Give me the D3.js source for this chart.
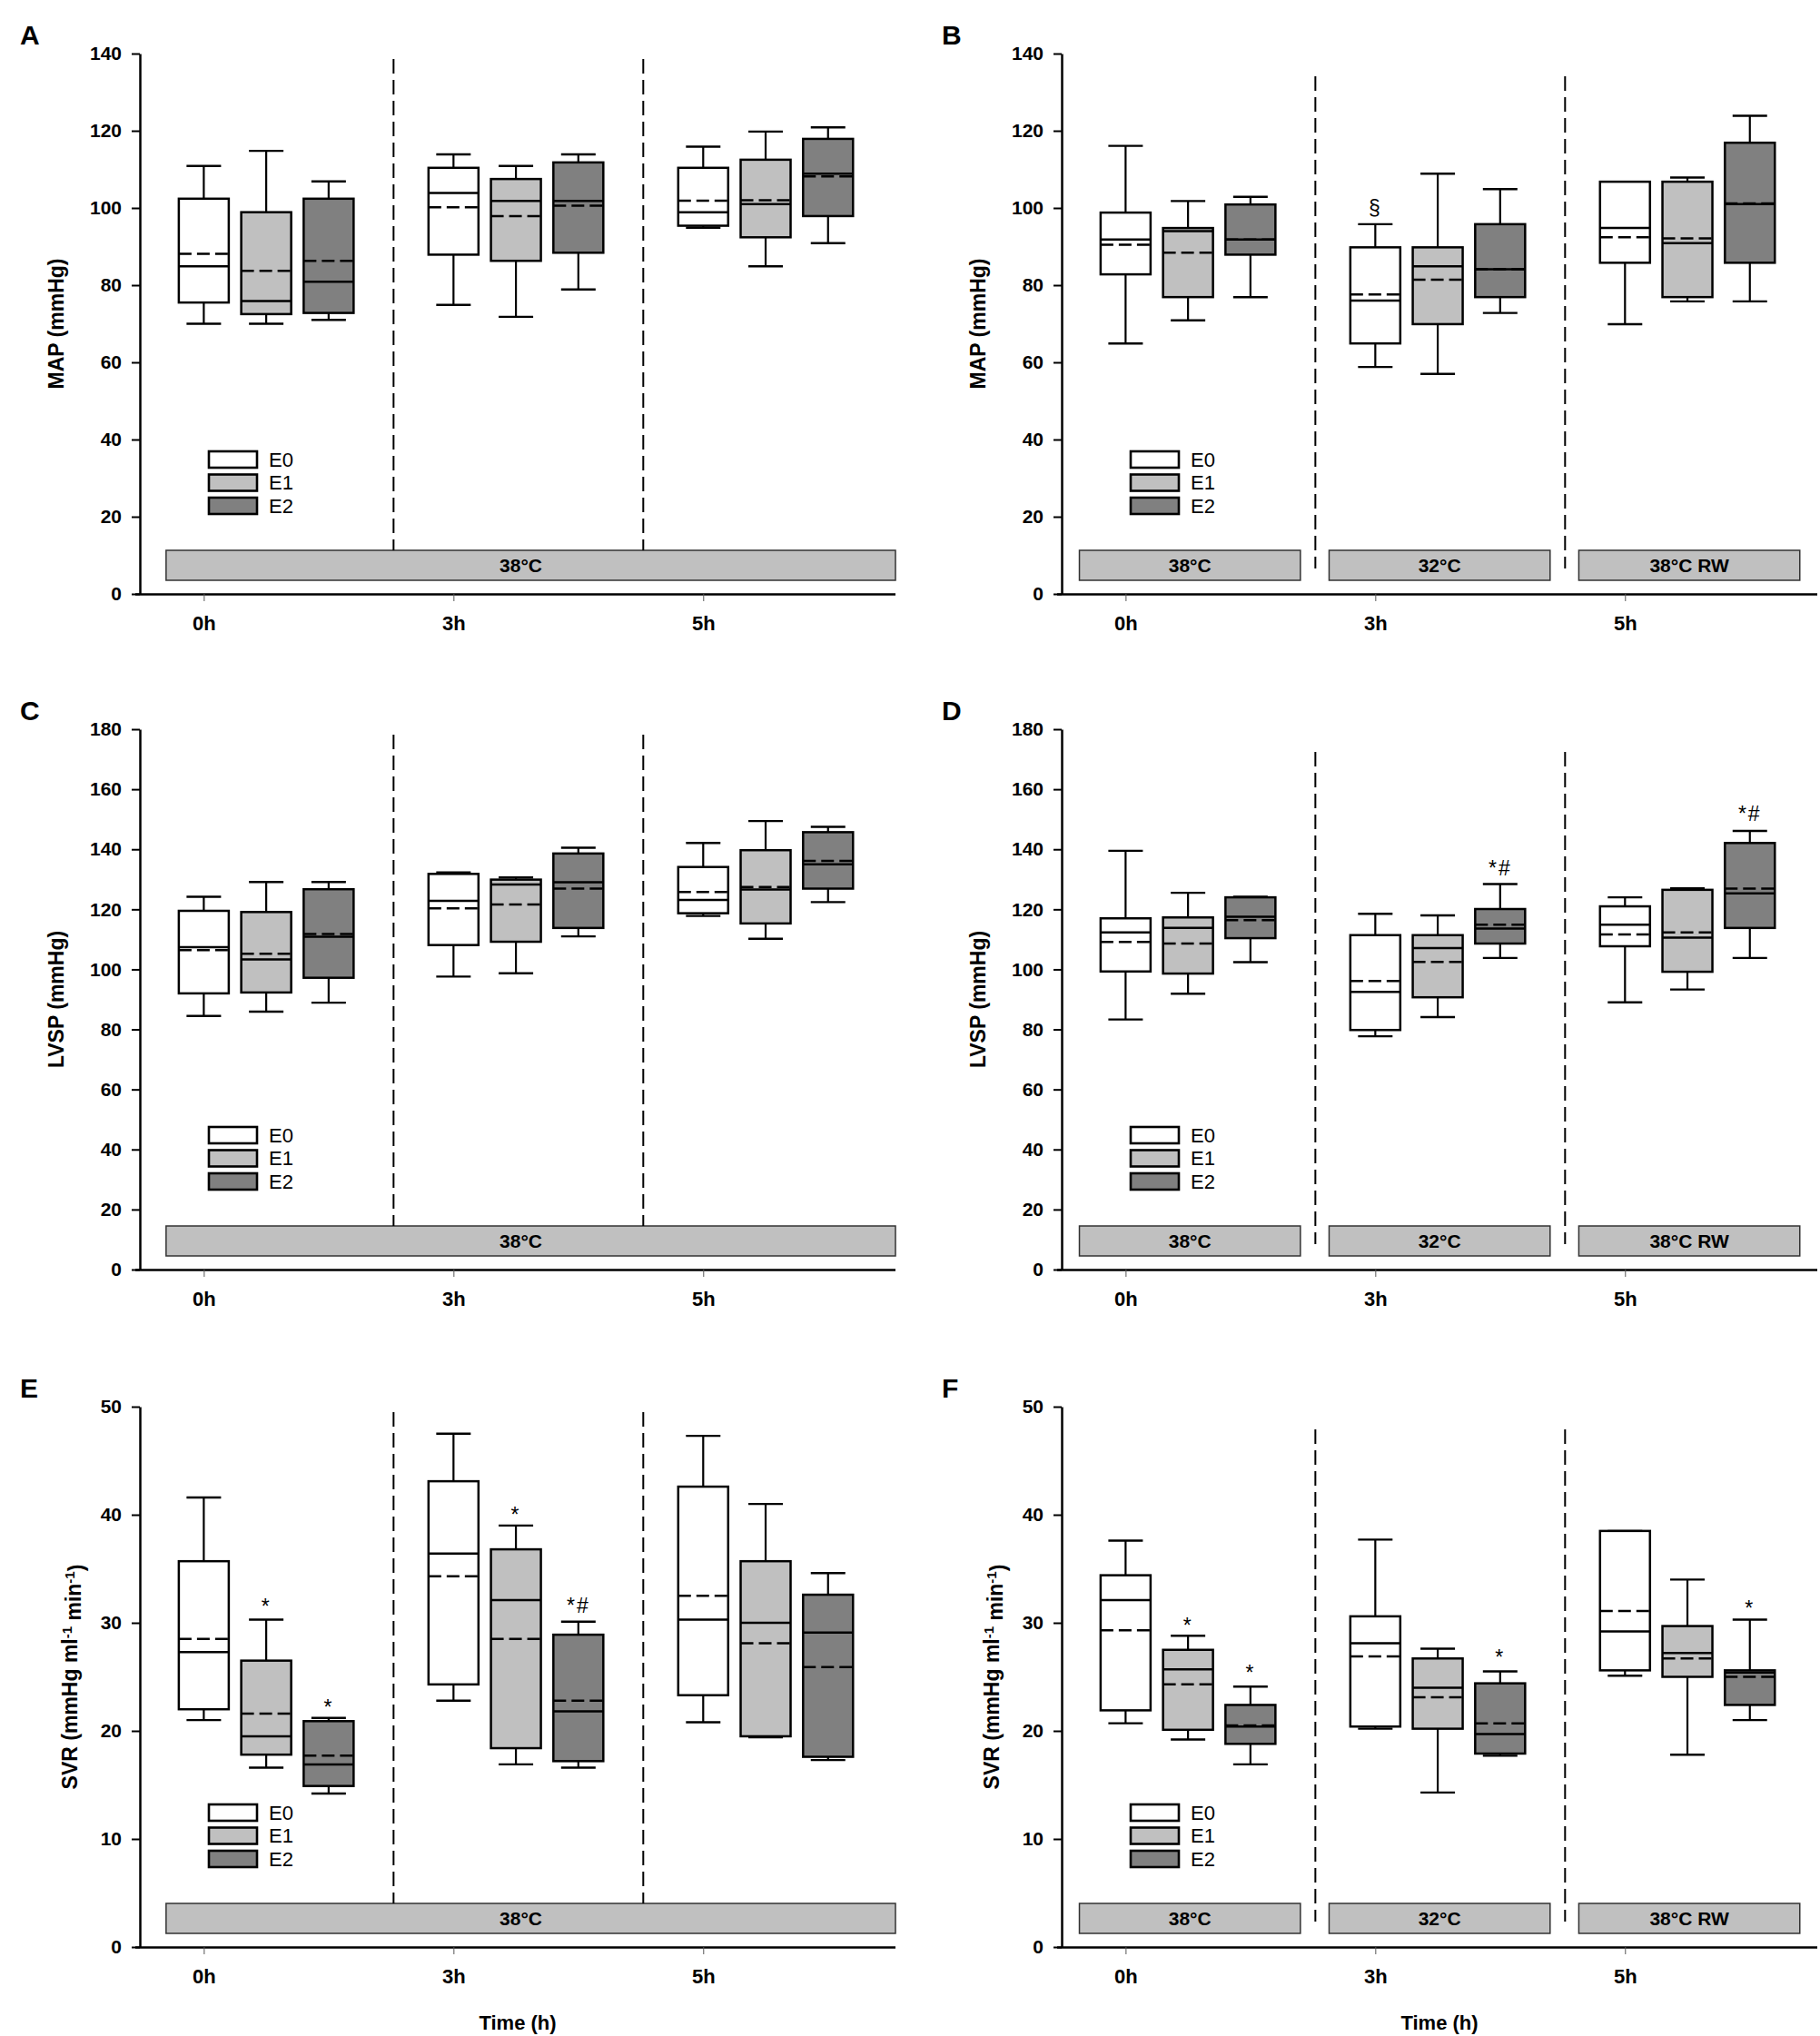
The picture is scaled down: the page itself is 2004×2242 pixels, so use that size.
<!DOCTYPE html>
<html>
<head>
<meta charset="utf-8">
<script src="https://cdn.jsdelivr.net/npm/d3@7"></script>
<style>
body { margin: 0; background: #fff; }
text { font-family: "Liberation Sans", Arial, sans-serif; }
</style>
</head>
<body>
<svg id="chart" width="2004" height="2242"></svg>
<script>
// Categories
const times = ["0h", "3h", "5h"];
const groups = ["E0", "E1", "E2"];
const groupFill = ["#ffffff", "#c0c0c0", "#808080"];

// Box rows: [time, group, whisker low, Q1, median, mean, Q3, whisker high]
const mapA = [
    ["0h", "E0", 70, 75.5, 84.9, 88.1, 102.4, 110.9],
    ["0h", "E1", 70, 72.5, 75.9, 83.7, 98.9, 114.8],
    ["0h", "E2", 71, 72.8, 80.9, 86.3, 102.4, 106.9],
    ["3h", "E0", 74.9, 87.9, 103.9, 100.2, 110.4, 113.9],
    ["3h", "E1", 71.8, 86.3, 101.8, 97.9, 107.5, 110.9],
    ["3h", "E2", 78.9, 88.4, 101.8, 100.6, 111.8, 113.9],
    ["5h", "E0", 94.9, 95.4, 98.9, 101.9, 110.4, 115.9],
    ["5h", "E1", 84.9, 92.4, 101, 102, 112.5, 119.8],
    ["5h", "E2", 90.9, 97.9, 108.9, 108.2, 117.9, 120.9]
];
const mapB = [
    ["0h", "E0", 64.9, 82.8, 91.8, 90.5, 98.8, 116.1],
    ["0h", "E1", 70.9, 76.9, 94, 88.4, 94.8, 101.8],
    ["0h", "E2", 76.9, 87.9, 91.8, 91.8, 100.9, 102.9],
    ["3h", "E0", 58.8, 64.9, 76, 77.6, 89.8, 95.8],
    ["3h", "E1", 57, 69.9, 84.9, 81.4, 89.8, 108.9],
    ["3h", "E2", 72.8, 76.9, 84.1, 84.1, 95.8, 104.9],
    ["5h", "E0", 69.9, 85.8, 94.8, 92.4, 106.8, 106.8],
    ["5h", "E1", 75.8, 76.9, 90.9, 92.1, 106.8, 107.9],
    ["5h", "E2", 75.8, 85.8, 101, 101.2, 116.9, 123.9]
];
const lvspC = [
    ["0h", "E0", 84.5, 92, 107.4, 106.4, 119.5, 124.2],
    ["0h", "E1", 85.9, 92.3, 103.3, 105.2, 119.1, 129.1],
    ["0h", "E2", 88.9, 97.2, 110.9, 111.8, 126.7, 129.1],
    ["3h", "E0", 97.6, 108.1, 122.8, 120.3, 131.8, 132.3],
    ["3h", "E1", 98.7, 109.2, 128.3, 121.6, 129.9, 130.6],
    ["3h", "E2", 111, 113.8, 129, 126.9, 138.6, 140.5],
    ["5h", "E0", 117.8, 118.7, 123.1, 125.8, 134.1, 142.1],
    ["5h", "E1", 110.2, 115.3, 126.6, 127.4, 139.7, 149.4],
    ["5h", "E2", 122.4, 126.9, 135, 136.1, 145.7, 147.5]
];
const lvspD = [
    ["0h", "E0", 83.3, 99.3, 112.3, 109.1, 117, 139.5],
    ["0h", "E1", 91.9, 98.6, 113.8, 108.6, 117.3, 125.5],
    ["0h", "E2", 102.4, 110.4, 117.5, 116.4, 124, 124.2],
    ["3h", "E0", 77.7, 79.8, 92.5, 96.1, 111.4, 118.5],
    ["3h", "E1", 84.1, 90.7, 107.1, 102.5, 111.4, 118],
    ["3h", "E2", 103.8, 108.6, 113.6, 114.9, 120.1, 128.4],
    ["5h", "E0", 89, 107.7, 114.9, 111.6, 121, 124],
    ["5h", "E1", 93.3, 99.2, 110.6, 112.3, 126.5, 127],
    ["5h", "E2", 103.8, 113.8, 125.3, 126.9, 142.1, 146.1]
];
const svrE = [
    ["0h", "E0", 21.0, 22.0, 27.3, 28.5, 35.7, 41.6],
    ["0h", "E1", 16.6, 17.8, 19.5, 21.6, 26.5, 30.3],
    ["0h", "E2", 14.2, 14.9, 16.9, 17.7, 20.9, 21.2],
    ["3h", "E0", 22.8, 24.3, 36.4, 34.3, 43.1, 47.5],
    ["3h", "E1", 16.9, 18.4, 32.1, 28.5, 36.8, 39],
    ["3h", "E2", 16.6, 17.2, 21.8, 22.8, 28.9, 30.1],
    ["5h", "E0", 20.8, 23.3, 30.3, 32.5, 42.6, 47.3],
    ["5h", "E1", 19.4, 19.5, 30.0, 28.1, 35.7, 41],
    ["5h", "E2", 17.3, 17.6, 29.1, 25.9, 32.6, 34.6]
];
const svrF = [
    ["0h", "E0", 20.7, 21.9, 32.1, 29.3, 34.4, 37.6],
    ["0h", "E1", 19.2, 20.1, 25.7, 24.3, 27.5, 28.8],
    ["0h", "E2", 16.9, 18.8, 20.4, 20.5, 22.4, 24.1],
    ["3h", "E0", 20.2, 20.4, 28.1, 26.9, 30.6, 37.7],
    ["3h", "E1", 14.3, 20.2, 24.0, 23.1, 26.7, 27.6],
    ["3h", "E2", 17.7, 17.9, 19.7, 20.7, 24.4, 25.5],
    ["5h", "E0", 25.1, 25.6, 29.2, 31.1, 38.5, 38.5],
    ["5h", "E1", 17.8, 25.0, 27.2, 26.7, 29.7, 34.0],
    ["5h", "E2", 21.0, 22.4, 25.4, 25.0, 25.6, 30.3]
];

// Significance marks: [time, group, value at mark, symbol]
const notesB = [["3h", "E0", 100, "§"]];
const notesD = [["3h", "E2", 133.7, "*#"], ["5h", "E2", 151.8, "*#"]];
const notesE = [["0h", "E1", 31.9, "*"], ["0h", "E2", 22.6, "*"], ["3h", "E1", 40.4, "*"], ["3h", "E2", 31.6, "*#"]];
const notesF = [["0h", "E1", 30.1, "*"], ["0h", "E2", 25.8, "*"], ["3h", "E2", 27.2, "*"], ["5h", "E2", 31.7, "*"]];

// Temperature band labels
const bandLabelsSingle = ["38°C"];
const bandLabelsSplit = ["38°C", "32°C", "38°C RW"];

// Y ticks
const ticksMAP = d3.range(0, 141, 20);
const ticksLVSP = d3.range(0, 181, 20);
const ticksSVR = d3.range(0, 51, 10);

// Layout
const colX = [154, 1169];
const rowY = [59, 803, 1549];
const W = 832, H = 595;
const boxW = 55, capW = 38;

const panels = [
    {letter: "A", col: 0, row: 0, data: mapA, ticks: ticksMAP, label: ["MAP (mmHg)"], bands: bandLabelsSingle, notes: []},
    {letter: "B", col: 1, row: 0, data: mapB, ticks: ticksMAP, label: ["MAP (mmHg)"], bands: bandLabelsSplit, notes: notesB},
    {letter: "C", col: 0, row: 1, data: lvspC, ticks: ticksLVSP, label: ["LVSP (mmHg)"], bands: bandLabelsSingle, notes: []},
    {letter: "D", col: 1, row: 1, data: lvspD, ticks: ticksLVSP, label: ["LVSP (mmHg)"], bands: bandLabelsSplit, notes: notesD},
    {letter: "E", col: 0, row: 2, data: svrE, ticks: ticksSVR, label: "svr", bands: bandLabelsSingle, notes: notesE},
    {letter: "F", col: 1, row: 2, data: svrF, ticks: ticksSVR, label: "svr", bands: bandLabelsSplit, notes: notesF}
];

const svg = d3.select("#chart");

panels.forEach(p => {
    const g = svg.append("g")
        .attr("transform", "translate(" + colX[p.col] + "," + rowY[p.row] + ")");

    const x = d3.scaleLinear().domain([-0.256, 2.77]).range([0, W]);
    const y = d3.scaleLinear().domain([0, d3.max(p.ticks)]).range([H, 0]);
    const pos = (t, grp) => x(times.indexOf(t) + groups.indexOf(grp) * 0.25);

    // Temperature bands
    const bandG = g.append("g");
    if (p.bands.length === 1) {
        bandG.append("rect")
            .attr("x", x(-0.151)).attr("y", H - 48)
            .attr("width", x(2.77) - x(-0.151)).attr("height", 33)
            .attr("fill", "#c0c0c0").attr("stroke", "#333").attr("stroke-width", 1.5);
        bandG.append("text")
            .attr("x", x(1.27)).attr("y", H - 31.5).attr("dy", "0.36em")
            .attr("text-anchor", "middle")
            .style("font-size", "21px").style("font-weight", "bold")
            .text(p.bands[0]);
    } else {
        p.bands.forEach((b, i) => {
            bandG.append("rect")
                .attr("x", x(i - 0.185)).attr("y", H - 48)
                .attr("width", x(i + 0.70) - x(i - 0.185)).attr("height", 33)
                .attr("fill", "#c0c0c0").attr("stroke", "#333").attr("stroke-width", 1.5);
            bandG.append("text")
                .attr("x", x(i + 0.2575)).attr("y", H - 31.5).attr("dy", "0.36em")
                .attr("text-anchor", "middle")
                .style("font-size", "21px").style("font-weight", "bold")
                .text(b);
        });
    }

    // Dashed time dividers
    [0.76, 1.76].forEach(d => {
        const y1 = p.bands.length === 1 ? 6 : 25;
        const y2 = p.bands.length === 1 ? H - 48 : H - 28;
        g.append("line")
            .attr("x1", x(d)).attr("x2", x(d))
            .attr("y1", y1).attr("y2", y2)
            .attr("stroke", "#000").attr("stroke-width", 2)
            .attr("stroke-dasharray", "16,7");
    });

    // Boxes
    const box = g.selectAll(".box")
        .data(p.data)
        .enter().append("g")
        .attr("class", "box");

    // whiskers
    box.append("line")
        .attr("x1", d => pos(d[0], d[1])).attr("x2", d => pos(d[0], d[1]))
        .attr("y1", d => y(d[7])).attr("y2", d => y(d[2]))
        .attr("stroke", "#000").attr("stroke-width", 2.2);
    box.append("line")
        .attr("x1", d => pos(d[0], d[1]) - capW / 2).attr("x2", d => pos(d[0], d[1]) + capW / 2)
        .attr("y1", d => y(d[7])).attr("y2", d => y(d[7]))
        .attr("stroke", "#000").attr("stroke-width", 2.4);
    box.append("line")
        .attr("x1", d => pos(d[0], d[1]) - capW / 2).attr("x2", d => pos(d[0], d[1]) + capW / 2)
        .attr("y1", d => y(d[2])).attr("y2", d => y(d[2]))
        .attr("stroke", "#000").attr("stroke-width", 2.4);

    box.append("rect")
        .attr("x", d => pos(d[0], d[1]) - boxW / 2)
        .attr("y", d => y(d[6]))
        .attr("width", boxW)
        .attr("height", d => y(d[3]) - y(d[6]))
        .attr("fill", d => groupFill[groups.indexOf(d[1])])
        .attr("stroke", "#000").attr("stroke-width", 2.5);

    // median
    box.append("line")
        .attr("x1", d => pos(d[0], d[1]) - boxW / 2).attr("x2", d => pos(d[0], d[1]) + boxW / 2)
        .attr("y1", d => y(d[4])).attr("y2", d => y(d[4]))
        .attr("stroke", "#000").attr("stroke-width", 2.5);
    // mean
    box.append("line")
        .attr("x1", d => pos(d[0], d[1]) - boxW / 2).attr("x2", d => pos(d[0], d[1]) + boxW / 2)
        .attr("y1", d => y(d[5])).attr("y2", d => y(d[5]))
        .attr("stroke", "#000").attr("stroke-width", 2.5)
        .attr("stroke-dasharray", "14,6");

    // Significance marks
    g.selectAll(".note")
        .data(p.notes)
        .enter().append("text")
        .attr("class", "note")
        .attr("x", d => pos(d[0], d[1]))
        .attr("y", d => y(d[2]))
        .attr("dy", d => d[3] === "*" ? "0.55em" : "0.36em")
        .attr("text-anchor", "middle")
        .style("font-size", "23px")
        .style("letter-spacing", "2px")
        .text(d => d[3]);

    // Y axis
    const yAxis = g.append("g")
        .call(d3.axisLeft(y).tickValues(p.ticks).tickSize(9).tickSizeOuter(0).tickPadding(11));
    yAxis.select(".domain").attr("stroke", "#000").attr("stroke-width", 2.5);
    yAxis.selectAll(".tick line").attr("stroke", "#000").attr("stroke-width", 2);
    yAxis.selectAll(".tick text")
        .attr("fill", "#000")
        .style("font-family", "'Liberation Sans', Arial, sans-serif")
        .style("font-size", "21px").style("font-weight", "bold");

    // X axis
    const xAxis = g.append("g")
        .attr("transform", "translate(0," + H + ")")
        .call(d3.axisBottom(x).tickValues([0, 1, 2]).tickFormat(i => times[i])
            .tickSize(8).tickSizeOuter(0).tickPadding(16));
    xAxis.select(".domain").attr("stroke", "#000").attr("stroke-width", 2.5)
        .attr("d", "M-5,0.5H" + W);
    xAxis.selectAll(".tick line").attr("stroke", "#555").attr("stroke-width", 1);
    xAxis.selectAll(".tick text")
        .attr("fill", "#000")
        .style("font-family", "'Liberation Sans', Arial, sans-serif")
        .style("font-size", "22px").style("font-weight", "bold");

    // Y label
    const yl = g.append("text")
        .attr("transform", "translate(" + (p.label === "svr" ? -77 : -92) + "," + (H / 2) + ") rotate(-90)")
        .attr("text-anchor", "middle")
        .attr("dy", "0.36em")
        .style("font-size", "23px").style("font-weight", "bold");
    if (p.label === "svr") {
        yl.append("tspan").text("SVR (mmHg ml");
        yl.append("tspan").attr("dy", "-0.45em").style("font-size", "15px").text("-1");
        yl.append("tspan").attr("dy", "0.45em").text(" min");
        yl.append("tspan").attr("dy", "-0.45em").style("font-size", "15px").text("-1");
        yl.append("tspan").attr("dy", "0.45em").text(")");
    } else {
        yl.text(p.label[0]);
    }

    // Panel letter
    g.append("text")
        .attr("x", -132).attr("y", -10)
        .style("font-size", "30px").style("font-weight", "bold")
        .text(p.letter);

    // Legend
    const leg = g.append("g").attr("transform", "translate(76," + 438 + ")");
    groups.forEach((grp, i) => {
        leg.append("rect")
            .attr("x", 0).attr("y", i * 25.5)
            .attr("width", 53).attr("height", 18)
            .attr("fill", groupFill[i]).attr("stroke", "#000").attr("stroke-width", 2.6);
        leg.append("text")
            .attr("x", 66).attr("y", i * 25.5 + 9).attr("dy", "0.36em")
            .style("font-size", "22px")
            .text(grp);
    });

    // X label on bottom row
    if (p.row === 2) {
        g.append("text")
            .attr("x", W / 2).attr("y", H + 91)
            .attr("text-anchor", "middle")
            .style("font-size", "22px").style("font-weight", "bold")
            .text("Time (h)");
    }
});
</script>
</body>
</html>
